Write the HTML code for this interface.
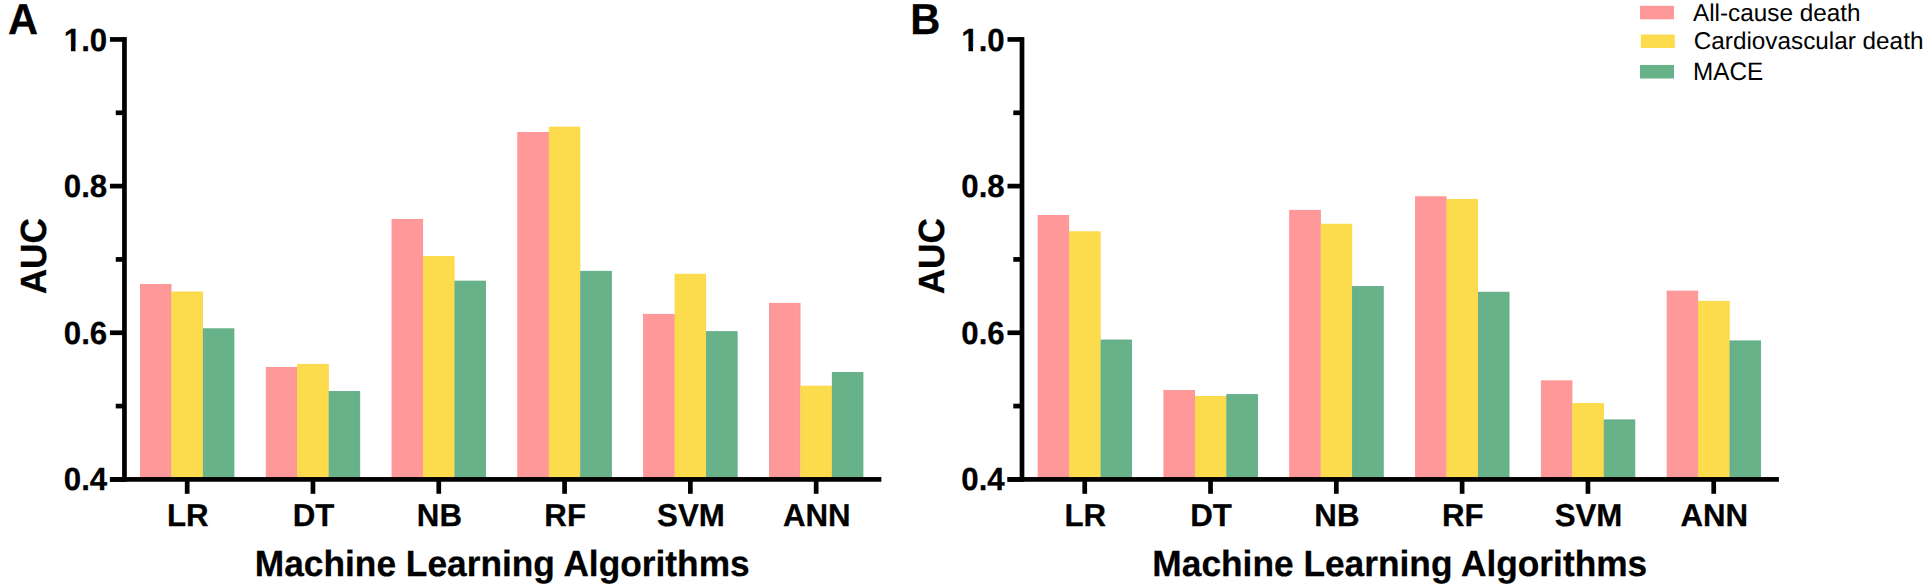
<!DOCTYPE html>
<html><head><meta charset="utf-8"><title>AUC of machine learning algorithms</title>
<style>
html,body{margin:0;padding:0;background:#fff;}
body{width:1925px;height:587px;overflow:hidden;}
svg{display:block;text-rendering:geometricPrecision;font-family:"Liberation Sans",sans-serif;fill:#000;}
</style></head><body>
<svg width="1925" height="587" viewBox="0 0 1925 587">
<rect width="1925" height="587" fill="#fff"/>
<g id="panelA">
<rect x="140.40" y="284.50" width="30.65" height="195.30" fill="#FF9999" stroke="#FF8E8E" stroke-width="0.8"/>
<rect x="171.85" y="292.00" width="30.65" height="187.80" fill="#FCDC4D" stroke="#FAD53C" stroke-width="0.8"/>
<rect x="203.30" y="328.80" width="30.65" height="151.00" fill="#68B28A" stroke="#5BA981" stroke-width="0.8"/>
<rect x="266.20" y="367.40" width="30.65" height="112.40" fill="#FF9999" stroke="#FF8E8E" stroke-width="0.8"/>
<rect x="297.65" y="364.30" width="30.65" height="115.50" fill="#FCDC4D" stroke="#FAD53C" stroke-width="0.8"/>
<rect x="329.10" y="391.40" width="30.65" height="88.40" fill="#68B28A" stroke="#5BA981" stroke-width="0.8"/>
<rect x="392.00" y="219.40" width="30.65" height="260.40" fill="#FF9999" stroke="#FF8E8E" stroke-width="0.8"/>
<rect x="423.45" y="256.45" width="30.65" height="223.35" fill="#FCDC4D" stroke="#FAD53C" stroke-width="0.8"/>
<rect x="454.90" y="281.10" width="30.65" height="198.70" fill="#68B28A" stroke="#5BA981" stroke-width="0.8"/>
<rect x="517.80" y="132.40" width="30.65" height="347.40" fill="#FF9999" stroke="#FF8E8E" stroke-width="0.8"/>
<rect x="549.25" y="127.10" width="30.65" height="352.70" fill="#FCDC4D" stroke="#FAD53C" stroke-width="0.8"/>
<rect x="580.70" y="271.30" width="30.65" height="208.50" fill="#68B28A" stroke="#5BA981" stroke-width="0.8"/>
<rect x="643.60" y="314.30" width="30.65" height="165.50" fill="#FF9999" stroke="#FF8E8E" stroke-width="0.8"/>
<rect x="675.05" y="274.20" width="30.65" height="205.60" fill="#FCDC4D" stroke="#FAD53C" stroke-width="0.8"/>
<rect x="706.50" y="331.70" width="30.65" height="148.10" fill="#68B28A" stroke="#5BA981" stroke-width="0.8"/>
<rect x="769.40" y="303.30" width="30.65" height="176.50" fill="#FF9999" stroke="#FF8E8E" stroke-width="0.8"/>
<rect x="800.85" y="386.15" width="30.65" height="93.65" fill="#FCDC4D" stroke="#FAD53C" stroke-width="0.8"/>
<rect x="832.30" y="372.45" width="30.65" height="107.35" fill="#68B28A" stroke="#5BA981" stroke-width="0.8"/>
<rect x="122.10" y="37.10" width="4.7" height="444.65" fill="#000"/>
<rect x="109.95" y="477.05" width="771.40" height="4.7" fill="#000"/>
<rect x="109.95" y="37.10" width="14.50" height="4.7" fill="#000"/>
<text transform="translate(107.20,50.55) rotate(0.02) scale(1,1.025)" text-anchor="end" font-size="31.25" font-weight="bold" stroke="#000" stroke-width="0.25">1.0</text>
<rect x="64.13" y="46.78" width="6.78" height="6" fill="#fff"/>
<rect x="75.49" y="46.78" width="6.13" height="6" fill="#fff"/>
<rect x="115.75" y="110.43" width="8.70" height="4.7" fill="#000"/>
<rect x="109.95" y="183.75" width="14.50" height="4.7" fill="#000"/>
<text transform="translate(107.20,197.20) rotate(0.02) scale(1,1.025)" text-anchor="end" font-size="31.25" font-weight="bold" stroke="#000" stroke-width="0.25">0.8</text>
<rect x="115.75" y="257.07" width="8.70" height="4.7" fill="#000"/>
<rect x="109.95" y="330.40" width="14.50" height="4.7" fill="#000"/>
<text transform="translate(107.20,343.85) rotate(0.02) scale(1,1.025)" text-anchor="end" font-size="31.25" font-weight="bold" stroke="#000" stroke-width="0.25">0.6</text>
<rect x="115.75" y="403.72" width="8.70" height="4.7" fill="#000"/>
<rect x="109.95" y="477.05" width="14.50" height="4.7" fill="#000"/>
<text transform="translate(107.20,490.50) rotate(0.02) scale(1,1.025)" text-anchor="end" font-size="31.25" font-weight="bold" stroke="#000" stroke-width="0.25">0.4</text>
<rect x="184.83" y="479.40" width="4.7" height="14.40" fill="#000"/>
<text transform="translate(187.78,525.60) rotate(0.02) scale(1,1.01)" text-anchor="middle" font-size="31.25" font-weight="bold" stroke="#000" stroke-width="0.25">LR</text>
<rect x="310.62" y="479.40" width="4.7" height="14.40" fill="#000"/>
<text transform="translate(313.58,525.60) rotate(0.02) scale(1,1.01)" text-anchor="middle" font-size="31.25" font-weight="bold" stroke="#000" stroke-width="0.25">DT</text>
<rect x="436.43" y="479.40" width="4.7" height="14.40" fill="#000"/>
<text transform="translate(439.38,525.60) rotate(0.02) scale(1,1.01)" text-anchor="middle" font-size="31.25" font-weight="bold" stroke="#000" stroke-width="0.25">NB</text>
<rect x="562.22" y="479.40" width="4.7" height="14.40" fill="#000"/>
<text transform="translate(565.17,525.60) rotate(0.02) scale(1,1.01)" text-anchor="middle" font-size="31.25" font-weight="bold" stroke="#000" stroke-width="0.25">RF</text>
<rect x="688.02" y="479.40" width="4.7" height="14.40" fill="#000"/>
<text transform="translate(690.98,525.60) rotate(0.02) scale(1,1.01)" text-anchor="middle" font-size="31.25" font-weight="bold" stroke="#000" stroke-width="0.25">SVM</text>
<rect x="813.82" y="479.40" width="4.7" height="14.40" fill="#000"/>
<text transform="translate(816.77,525.60) rotate(0.02) scale(1,1.01)" text-anchor="middle" font-size="31.25" font-weight="bold" stroke="#000" stroke-width="0.25">ANN</text>
<text transform="translate(502.25,576.40) rotate(0.02) scale(1,1.03)" text-anchor="middle" font-size="35.3" font-weight="bold" stroke="#000" stroke-width="0.25">Machine Learning Algorithms</text>
<text transform="translate(46.45,256.20) rotate(-89.98) scale(1,1.035)" text-anchor="middle" font-size="35.2" font-weight="bold" stroke="#000" stroke-width="0.25">AUC</text>
<text transform="translate(8.00,33.60) rotate(0.02) scale(1,1.04)" text-anchor="start" font-size="41.67" font-weight="bold" stroke="#000" stroke-width="0.25">A</text>
</g>
<g id="panelB">
<rect x="1038.10" y="215.40" width="30.65" height="264.40" fill="#FF9999" stroke="#FF8E8E" stroke-width="0.8"/>
<rect x="1069.55" y="231.80" width="30.65" height="248.00" fill="#FCDC4D" stroke="#FAD53C" stroke-width="0.8"/>
<rect x="1101.00" y="340.00" width="30.65" height="139.80" fill="#68B28A" stroke="#5BA981" stroke-width="0.8"/>
<rect x="1163.90" y="390.40" width="30.65" height="89.40" fill="#FF9999" stroke="#FF8E8E" stroke-width="0.8"/>
<rect x="1195.35" y="396.50" width="30.65" height="83.30" fill="#FCDC4D" stroke="#FAD53C" stroke-width="0.8"/>
<rect x="1226.80" y="394.55" width="30.65" height="85.25" fill="#68B28A" stroke="#5BA981" stroke-width="0.8"/>
<rect x="1289.70" y="210.30" width="30.65" height="269.50" fill="#FF9999" stroke="#FF8E8E" stroke-width="0.8"/>
<rect x="1321.15" y="224.20" width="30.65" height="255.60" fill="#FCDC4D" stroke="#FAD53C" stroke-width="0.8"/>
<rect x="1352.60" y="286.50" width="30.65" height="193.30" fill="#68B28A" stroke="#5BA981" stroke-width="0.8"/>
<rect x="1415.50" y="196.80" width="30.65" height="283.00" fill="#FF9999" stroke="#FF8E8E" stroke-width="0.8"/>
<rect x="1446.95" y="199.40" width="30.65" height="280.40" fill="#FCDC4D" stroke="#FAD53C" stroke-width="0.8"/>
<rect x="1478.40" y="292.20" width="30.65" height="187.60" fill="#68B28A" stroke="#5BA981" stroke-width="0.8"/>
<rect x="1541.30" y="380.85" width="30.65" height="98.95" fill="#FF9999" stroke="#FF8E8E" stroke-width="0.8"/>
<rect x="1572.75" y="403.60" width="30.65" height="76.20" fill="#FCDC4D" stroke="#FAD53C" stroke-width="0.8"/>
<rect x="1604.20" y="419.90" width="30.65" height="59.90" fill="#68B28A" stroke="#5BA981" stroke-width="0.8"/>
<rect x="1667.10" y="291.10" width="30.65" height="188.70" fill="#FF9999" stroke="#FF8E8E" stroke-width="0.8"/>
<rect x="1698.55" y="301.30" width="30.65" height="178.50" fill="#FCDC4D" stroke="#FAD53C" stroke-width="0.8"/>
<rect x="1730.00" y="340.90" width="30.65" height="138.90" fill="#68B28A" stroke="#5BA981" stroke-width="0.8"/>
<rect x="1019.65" y="37.10" width="4.7" height="444.65" fill="#000"/>
<rect x="1007.50" y="477.05" width="771.40" height="4.7" fill="#000"/>
<rect x="1007.50" y="37.10" width="14.50" height="4.7" fill="#000"/>
<text transform="translate(1004.75,50.55) rotate(0.02) scale(1,1.025)" text-anchor="end" font-size="31.25" font-weight="bold" stroke="#000" stroke-width="0.25">1.0</text>
<rect x="961.68" y="46.78" width="6.78" height="6" fill="#fff"/>
<rect x="973.04" y="46.78" width="6.13" height="6" fill="#fff"/>
<rect x="1013.30" y="110.43" width="8.70" height="4.7" fill="#000"/>
<rect x="1007.50" y="183.75" width="14.50" height="4.7" fill="#000"/>
<text transform="translate(1004.75,197.20) rotate(0.02) scale(1,1.025)" text-anchor="end" font-size="31.25" font-weight="bold" stroke="#000" stroke-width="0.25">0.8</text>
<rect x="1013.30" y="257.07" width="8.70" height="4.7" fill="#000"/>
<rect x="1007.50" y="330.40" width="14.50" height="4.7" fill="#000"/>
<text transform="translate(1004.75,343.85) rotate(0.02) scale(1,1.025)" text-anchor="end" font-size="31.25" font-weight="bold" stroke="#000" stroke-width="0.25">0.6</text>
<rect x="1013.30" y="403.72" width="8.70" height="4.7" fill="#000"/>
<rect x="1007.50" y="477.05" width="14.50" height="4.7" fill="#000"/>
<text transform="translate(1004.75,490.50) rotate(0.02) scale(1,1.025)" text-anchor="end" font-size="31.25" font-weight="bold" stroke="#000" stroke-width="0.25">0.4</text>
<rect x="1082.38" y="479.40" width="4.7" height="14.40" fill="#000"/>
<text transform="translate(1085.32,525.60) rotate(0.02) scale(1,1.01)" text-anchor="middle" font-size="31.25" font-weight="bold" stroke="#000" stroke-width="0.25">LR</text>
<rect x="1208.17" y="479.40" width="4.7" height="14.40" fill="#000"/>
<text transform="translate(1211.12,525.60) rotate(0.02) scale(1,1.01)" text-anchor="middle" font-size="31.25" font-weight="bold" stroke="#000" stroke-width="0.25">DT</text>
<rect x="1333.97" y="479.40" width="4.7" height="14.40" fill="#000"/>
<text transform="translate(1336.92,525.60) rotate(0.02) scale(1,1.01)" text-anchor="middle" font-size="31.25" font-weight="bold" stroke="#000" stroke-width="0.25">NB</text>
<rect x="1459.77" y="479.40" width="4.7" height="14.40" fill="#000"/>
<text transform="translate(1462.72,525.60) rotate(0.02) scale(1,1.01)" text-anchor="middle" font-size="31.25" font-weight="bold" stroke="#000" stroke-width="0.25">RF</text>
<rect x="1585.58" y="479.40" width="4.7" height="14.40" fill="#000"/>
<text transform="translate(1588.52,525.60) rotate(0.02) scale(1,1.01)" text-anchor="middle" font-size="31.25" font-weight="bold" stroke="#000" stroke-width="0.25">SVM</text>
<rect x="1711.38" y="479.40" width="4.7" height="14.40" fill="#000"/>
<text transform="translate(1714.32,525.60) rotate(0.02) scale(1,1.01)" text-anchor="middle" font-size="31.25" font-weight="bold" stroke="#000" stroke-width="0.25">ANN</text>
<text transform="translate(1399.80,576.40) rotate(0.02) scale(1,1.03)" text-anchor="middle" font-size="35.3" font-weight="bold" stroke="#000" stroke-width="0.25">Machine Learning Algorithms</text>
<text transform="translate(944.00,256.20) rotate(-89.98) scale(1,1.035)" text-anchor="middle" font-size="35.2" font-weight="bold" stroke="#000" stroke-width="0.25">AUC</text>
<text transform="translate(910.20,33.60) rotate(0.02) scale(1,1.04)" text-anchor="start" font-size="41.67" font-weight="bold" stroke="#000" stroke-width="0.25">B</text>
</g>
<g id="legend">
<rect x="1640" y="5.8" width="34" height="13.5" fill="#FF9999"/>
<text transform="translate(1693.00,20.80) rotate(0.02)" text-anchor="start" font-size="24.3">All-cause death</text>
<rect x="1640.8" y="34.5" width="34" height="13.5" fill="#FCDC4D"/>
<text transform="translate(1693.80,49.10) rotate(0.02)" text-anchor="start" font-size="24.3">Cardiovascular death</text>
<rect x="1640" y="65.0" width="34" height="13.5" fill="#68B28A"/>
<text transform="translate(1693.00,79.90) rotate(0.02) scale(1,1.04)" text-anchor="start" font-size="24.3">MACE</text>
</g>
</svg>
</body></html>
